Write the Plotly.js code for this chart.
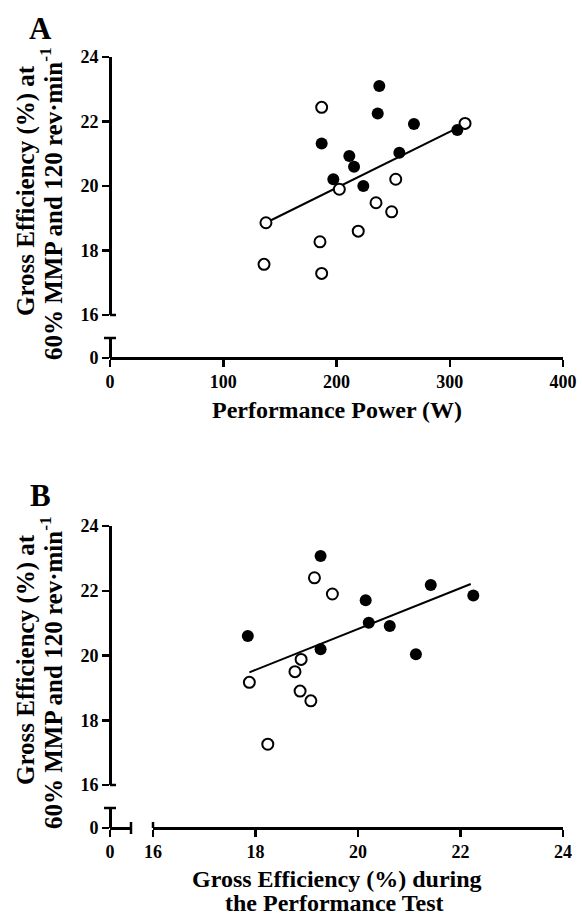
<!DOCTYPE html>
<html>
<head>
<meta charset="utf-8">
<script src="https://cdn.plot.ly/plotly-3.0.1.min.js"></script>
<style>html,body{margin:0;padding:0;background:#fff;}#chart{width:582px;height:917px;}</style>
</head>
<body>
<div id="chart"></div>
<script>
// ---- Panel A data: Performance Power (W) vs Gross Efficiency (%) ----
const aFilledX = [237.8, 236.4, 268.4, 306.7, 186.9, 211.3, 215.5, 255.5, 197.2, 223.7];
const aFilledY = [23.10, 22.25, 21.92, 21.74, 21.32, 20.93, 20.60, 21.03, 20.21, 20.00];
const aOpenX = [186.9, 313.5, 202.5, 252.3, 234.9, 248.7, 137.7, 219.2, 185.4, 136.0, 186.9];
const aOpenY = [22.44, 21.94, 19.90, 20.21, 19.48, 19.20, 18.86, 18.60, 18.27, 17.57, 17.29];
const aFitX = [137.7, 315];
const aFitY = [18.86, 21.94];
const aTicksX = [0, 100, 200, 300, 400];

// ---- Panel B data: GE during performance test vs GE at 60% MMP ----
const bFilledX = [19.27, 21.42, 22.25, 20.15, 20.21, 20.62, 17.85, 19.27, 21.13];
const bFilledY = [23.07, 22.18, 21.85, 21.71, 21.01, 20.91, 20.60, 20.19, 20.04];
const bOpenX = [19.15, 19.50, 18.89, 18.77, 17.88, 18.87, 19.08, 18.24];
const bOpenY = [22.40, 21.90, 19.88, 19.50, 19.17, 18.90, 18.60, 17.26];
const bFitX = [17.88, 22.2];
const bFitY = [19.48, 22.21];
const bTicksX = [16, 18, 20, 22, 24];

const geTicks = [16, 18, 20, 22, 24];
const zeroTick = [0];

const W = 582, H = 917;
const fx = p => p / W;
const fy = p => 1 - p / H;
const FONT = 'Liberation Serif, Times New Roman, serif';

const filledMarker = {size: 12, color: '#000'};
const openMarker = {size: 11, color: '#fff', line: {width: 2, color: '#000'}};
const fitLine = {color: '#000', width: 2};

const traces = [
  {x: aFitX, y: aFitY, mode: 'lines', line: fitLine, xaxis: 'x', yaxis: 'y', hoverinfo: 'skip'},
  {x: aOpenX, y: aOpenY, mode: 'markers', marker: openMarker, xaxis: 'x', yaxis: 'y'},
  {x: aFilledX, y: aFilledY, mode: 'markers', marker: filledMarker, xaxis: 'x', yaxis: 'y'},
  {x: [], y: [], mode: 'markers', xaxis: 'x', yaxis: 'y2'},
  {x: bFitX, y: bFitY, mode: 'lines', line: fitLine, xaxis: 'x3', yaxis: 'y3', hoverinfo: 'skip'},
  {x: bOpenX, y: bOpenY, mode: 'markers', marker: openMarker, xaxis: 'x3', yaxis: 'y3'},
  {x: bFilledX, y: bFilledY, mode: 'markers', marker: filledMarker, xaxis: 'x3', yaxis: 'y3'},
  {x: [], y: [], mode: 'markers', xaxis: 'x2', yaxis: 'y4'}
];

function ax(extra) {
  return Object.assign({
    type: 'linear', showline: true, linewidth: 2.5, linecolor: '#000',
    ticks: 'outside', ticklen: 7, tickwidth: 2.5, tickcolor: '#000',
    showgrid: false, zeroline: false, fixedrange: true, anchor: 'free',
    tickmode: 'array',
    tickfont: {family: FONT, size: 18, weight: 'bold', color: '#000'}
  }, extra);
}

function cap(x0, y0, x1, y1) {
  return {type: 'line', xref: 'paper', yref: 'paper',
    x0: fx(x0), y0: fy(y0), x1: fx(x1), y1: fy(y1),
    line: {color: '#000', width: 2.5}};
}

function ann(text, xp, yp, size, angle) {
  return {text: text, xref: 'paper', yref: 'paper', x: fx(xp), y: fy(yp),
    xanchor: 'center', yanchor: 'middle', showarrow: false, textangle: angle || 0,
    font: {family: FONT, size: size, weight: 'bold', color: '#000'}};
}

const layout = {
  width: W, height: H,
  margin: {l: 0, r: 0, t: 0, b: 0},
  paper_bgcolor: '#fff', plot_bgcolor: 'rgba(0,0,0,0)',
  showlegend: false,
  // Panel A
  xaxis: ax({domain: [fx(110), fx(563)], range: [0, 400], tickvals: aTicksX, position: fy(358)}),
  yaxis: ax({domain: [fy(315), fy(57)], range: [16, 24], tickvals: geTicks, position: fx(110)}),
  yaxis2: ax({domain: [fy(358), fy(338)], range: [0, 0.62], tickvals: zeroTick, position: fx(110)}),
  // Panel B
  xaxis2: ax({domain: [fx(110), fx(131)], range: [0, 0.41], tickvals: zeroTick, position: fy(828)}),
  xaxis3: ax({domain: [fx(153), fx(563)], range: [16, 24], tickvals: bTicksX, position: fy(828)}),
  yaxis3: ax({domain: [fy(785), fy(526)], range: [16, 24], tickvals: geTicks, position: fx(110)}),
  yaxis4: ax({domain: [fy(828), fy(808)], range: [0, 0.62], tickvals: zeroTick, position: fx(110)}),
  shapes: [
    cap(104, 338, 116, 338),
    cap(110, 315, 116, 315),
    cap(104, 808, 116, 808),
    cap(110, 785, 116, 785),
    cap(131, 822, 131, 834),
    cap(153, 822, 153, 828)
  ],
  annotations: [
    ann('A', 40, 28, 31),
    ann('B', 40, 495, 31),
    ann('Gross Efficiency (%) at', 26, 191, 25, -90),
    ann('60% MMP and 120 rev·min<sup>-1</sup>', 51, 204, 25, -90),
    ann('Performance Power (W)', 337, 410, 24),
    ann('Gross Efficiency (%) during', 337, 879, 24),
    ann('the Performance Test', 334, 903, 24),
    ann('Gross Efficiency (%) at', 26, 660, 25, -90),
    ann('60% MMP and 120 rev·min<sup>-1</sup>', 51, 673, 25, -90)
  ]
};

Plotly.newPlot('chart', traces, layout, {staticPlot: true, displayModeBar: false});
</script>
</body>
</html>
